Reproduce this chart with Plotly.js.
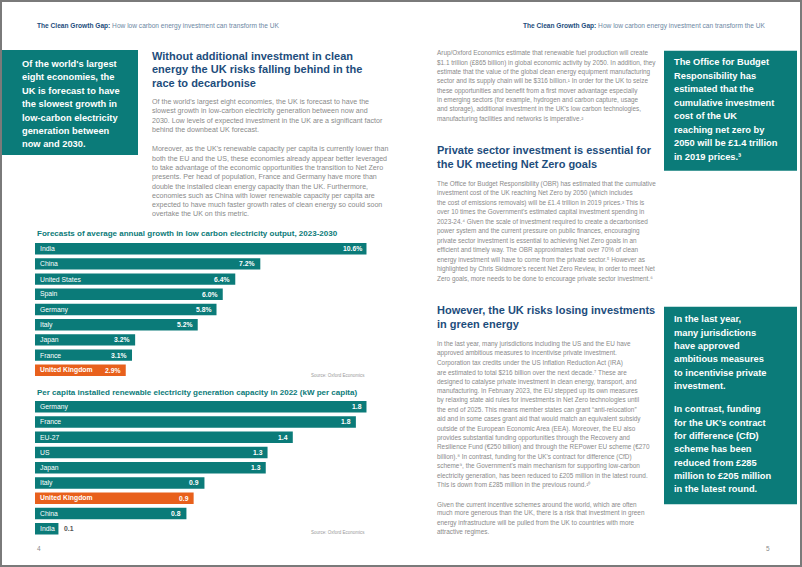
<!DOCTYPE html>
<html>
<head>
<meta charset="utf-8">
<script src="https://cdn.plot.ly/plotly-3.0.1.min.js"></script>
<style>html,body{margin:0;padding:0;background:#fff;}#chart{width:802px;height:567px;}</style>
</head>
<body>
<div id="chart"></div>
<script>
// ---------- DATA ----------
const growthCountries = ['India','China','United States','Spain','Germany','Italy','Japan','France','United Kingdom'];
const growthValues = [10.6, 7.2, 6.4, 6.0, 5.8, 5.2, 3.2, 3.1, 2.9];
const growthTitle = 'Forecasts of average annual growth in low carbon electricity output, 2023-2030';

const capCountries = ['Germany','France','EU-27','US','Japan','Italy','United Kingdom','China','India'];
const capValues = [1.84, 1.78, 1.43, 1.29, 1.28, 0.94, 0.88, 0.84, 0.13];
const capTitle = 'Per capita installed renewable electricity generation capacity in 2022 (kW per capita)';

const sourceText = 'Source: Oxford Economics';
const highlight = 'United Kingdom';

const headerBold = 'The Clean Growth Gap:';
const headerRest = ' How low carbon energy investment can transform the UK';

const leftBox = ["Of the world's largest","eight economies, the","UK is forecast to have","the slowest growth in","low-carbon electricity","generation between","now and 2030."];
const leftHeading = ["Without additional investment in clean","energy the UK risks falling behind in the","race to decarbonise"];
const leftPara1 = ["Of the world's largest eight economies, the UK is forecast to have the","slowest growth in low-carbon electricity generation between now and","2030. Low levels of expected investment in the UK are a significant factor","behind the downbeat UK forecast."];
const leftPara2 = ["Moreover, as the UK's renewable capacity per capita is currently lower than","both the EU and the US, these economies already appear better leveraged","to take advantage of the economic opportunities the transition to Net Zero","presents. Per head of population, France and Germany have more than","double the installed clean energy capacity than the UK. Furthermore,","economies such as China with lower renewable capacity per capita are","expected to have much faster growth rates of clean energy so could soon","overtake the UK on this metric."];

const rightPara1 = ["Arup/Oxford Economics estimate that renewable fuel production will create","$1.1 trillion (£865 billion) in global economic activity by 2050. In addition, they","estimate that the value of the global clean energy equipment manufacturing","sector and its supply chain will be $316 billion.\u00b9 In order for the UK to seize","these opportunities and benefit from a first mover advantage especially","in emerging sectors (for example, hydrogen and carbon capture, usage","and storage), additional investment in the UK's low carbon technologies,","manufacturing facilities and networks is imperative.\u00b2"];
const rightHeading2 = ["Private sector investment is essential for","the UK meeting Net Zero goals"];
const rightPara2 = ["The Office for Budget Responsibility (OBR) has estimated that the cumulative","investment cost of the UK reaching Net Zero by 2050 (which includes","the cost of emissions removals) will be £1.4 trillion in 2019 prices.\u00b3 This is","over 10 times the Government's estimated capital investment spending in","2023-24.\u2074 Given the scale of investment required to create a decarbonised","power system and the current pressure on public finances, encouraging","private sector investment is essential to achieving Net Zero goals in an","efficient and timely way. The OBR approximates that over 70% of clean","energy investment will have to come from the private sector.\u2075 However as","highlighted by Chris Skidmore's recent Net Zero Review, in order to meet Net","Zero goals, more needs to be done to encourage private sector investment.\u2076"];
const rightHeading3 = ["However, the UK risks losing investments","in green energy"];
const rightPara3 = ["In the last year, many jurisdictions including the US and the EU have","approved ambitious measures to incentivise private investment.","Corporation tax credits under the US Inflation Reduction Act (IRA)","are estimated to total $216 billion over the next decade.\u2077 These are","designed to catalyse private investment in clean energy, transport, and","manufacturing. In February 2023, the EU stepped up its own measures","by relaxing state aid rules for investments in Net Zero technologies until","the end of 2025. This means member states can grant \u201canti-relocation\u201d","aid and in some cases grant aid that would match an equivalent subsidy","outside of the European Economic Area (EEA). Moreover, the EU also","provides substantial funding opportunities through the Recovery and","Resilience Fund (€250 billion) and through the REPower EU scheme (€270","billion).\u2078 In contrast, funding for the UK's contract for difference (CfD)","scheme\u2079, the Government's main mechanism for supporting low-carbon","electricity generation, has been reduced to £205 million in the latest round.","This is down from £285 million in the previous round.\u00b9\u2070"];
const rightPara4 = ["Given the current incentive schemes around the world, which are often","much more generous than the UK, there is a risk that investment in green","energy infrastructure will be pulled from the UK to countries with more","attractive regimes."];
const rightBox1 = ["The Office for Budget","Responsibility has","estimated that the","cumulative investment","cost of the UK","reaching net zero by","2050 will be £1.4 trillion","in 2019 prices.\u00b3"];
const rightBox2a = ["In the last year,","many jurisdictions","have approved","ambitious measures","to incentivise private","investment."];
const rightBox2b = ["In contrast, funding","for the UK's contract","for difference (CfD)","scheme has been","reduced from £285","million to £205 million","in the latest round."];

// ---------- STYLE ----------
const W = 802, H = 567;
const F = 'Liberation Sans, Arial, Helvetica, sans-serif';
const TEAL = '#0b7b79', ORANGE = '#e8601c', NAVY = '#1d4d7c', BODY = '#8a8a8a';
const X = p => p / W;
const Y = p => 1 - p / H;

const annotations = [];
function txt(x, y, text, size, color, bold, anchor) {
  annotations.push({xref:'paper', yref:'paper', x:X(x), y:Y(y), xanchor:anchor||'left', yanchor:'middle',
    showarrow:false, text: bold ? '<b>'+text+'</b>' : text, font:{family:F, size:size, color:color}});
}
function block(lines, x, y0, step, size, color, bold) {
  lines.forEach((l,i) => txt(x, y0 + i*step, l, size, color, bold));
}

// headers
txt(35, 26, '<b>'+headerBold+'</b><span style="color:#6d87a3">'+headerRest+'</span>', 6.6, NAVY, false, 'left');
txt(767, 26, '<b>'+headerBold+'</b><span style="color:#6d87a3">'+headerRest+'</span>', 6.6, NAVY, false, 'right');

// left page text
block(leftBox, 20, 64, 13.4, 9.3, '#ffffff', true);
block(leftHeading, 150, 55.5, 13.6, 11, NAVY, true);
block(leftPara1, 150, 102, 9.33, 7.1, BODY, false);
block(leftPara2, 150, 149.3, 9.3, 7.1, BODY, false);

// right page text
block(rightPara1, 435, 53.3, 9.35, 6.4, BODY, false);
block(rightHeading2, 435, 150, 14.3, 11, NAVY, true);
block(rightPara2, 435, 184, 9.45, 6.4, BODY, false);
block(rightHeading3, 435, 310, 14, 11, NAVY, true);
block(rightPara3, 435, 344, 9.4, 6.4, BODY, false);
block(rightPara4, 435, 504, 9.33, 6.4, BODY, false);
block(rightBox1, 672, 62.3, 13.53, 9.3, '#ffffff', true);
block(rightBox2a, 672, 319.3, 13.34, 9.3, '#ffffff', true);
block(rightBox2b, 672, 409.3, 13.33, 9.3, '#ffffff', true);

// chart titles & sources & page numbers
txt(35, 233.5, growthTitle, 8.0, TEAL, true);
txt(35, 392.7, capTitle, 8.0, TEAL, true);
txt(367, 375.7, sourceText, 4.5, '#9a9a9a', false, 'right');
txt(367, 532.7, sourceText, 4.5, '#9a9a9a', false, 'right');
txt(35, 548, '4', 6.5, '#8a8a8a', false);
txt(764, 548, '5', 6.5, '#8a8a8a', false);

// bar labels
function barLabels(cats, vals, xa, ya, fmt, maxV) {
  cats.forEach((c,i) => {
    const isH = c === highlight;
    annotations.push({xref:xa, yref:ya, x:0, y:c, xanchor:'left', yanchor:'middle', xshift:3, showarrow:false,
      text: isH ? '<b>'+c+'</b>' : c, font:{family:F, size:6.8, color:'#ffffff'}});
    const small = vals[i] < 0.15*maxV;
    annotations.push({xref:xa, yref:ya, x:vals[i], y:c, xanchor: small ? 'left' : 'right', yanchor:'middle',
      xshift: small ? 4 : -3, showarrow:false, text:'<b>'+fmt(vals[i])+'</b>',
      font:{family:F, size:6.8, color: small ? '#555555' : '#ffffff'}});
  });
}
barLabels(growthCountries, growthValues, 'x', 'y', v => v.toFixed(1)+'%', Math.max(...growthValues));
barLabels(capCountries, capValues, 'x2', 'y2', v => v.toFixed(1), Math.max(...capValues));

const traces = [
  {type:'bar', orientation:'h', x:growthValues, y:growthCountries, xaxis:'x', yaxis:'y',
   marker:{color: growthCountries.map(c => c===highlight ? ORANGE : TEAL)}, hoverinfo:'none'},
  {type:'bar', orientation:'h', x:capValues, y:capCountries, xaxis:'x2', yaxis:'y2',
   marker:{color: capCountries.map(c => c===highlight ? ORANGE : TEAL)}, hoverinfo:'none'}
];

const hid = {showgrid:false, zeroline:false, showticklabels:false, showline:false, ticks:'', fixedrange:true};
const layout = {
  width:W, height:H, margin:{l:0,r:0,t:0,b:0}, paper_bgcolor:'#ffffff', plot_bgcolor:'rgba(0,0,0,0)',
  showlegend:false, bargap:0.25,
  xaxis: Object.assign({domain:[X(35), X(366.7)], range:[0, Math.max(...growthValues)], anchor:'y'}, hid),
  yaxis: Object.assign({domain:[Y(377.9), Y(241.1)], type:'category', autorange:'reversed', anchor:'x'}, hid),
  xaxis2: Object.assign({domain:[X(35), X(366.7)], range:[0, Math.max(...capValues)], anchor:'y2'}, hid),
  yaxis2: Object.assign({domain:[Y(536.3), Y(399.1)], type:'category', autorange:'reversed', anchor:'x2'}, hid),
  shapes: [
    {type:'rect', xref:'paper', yref:'paper', x0:X(1), x1:X(801), y0:Y(566), y1:Y(1), line:{color:'#7a7a7a', width:2}},
    {type:'rect', xref:'paper', yref:'paper', x0:X(2), x1:X(138), y0:Y(155), y1:Y(50), fillcolor:TEAL, line:{width:0}, layer:'below'},
    {type:'rect', xref:'paper', yref:'paper', x0:X(664), x1:X(797), y0:Y(170.7), y1:Y(50.7), fillcolor:TEAL, line:{width:0}, layer:'below'},
    {type:'rect', xref:'paper', yref:'paper', x0:X(664), x1:X(797), y0:Y(504.3), y1:Y(306.7), fillcolor:TEAL, line:{width:0}, layer:'below'}
  ],
  annotations: annotations
};
Plotly.newPlot('chart', traces, layout, {displayModeBar:false, staticPlot:true});
</script>
</body>
</html>
